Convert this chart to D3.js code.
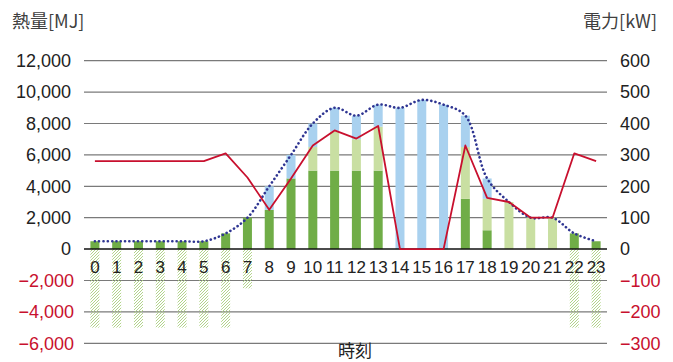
<!DOCTYPE html>
<html>
<head>
<meta charset="utf-8">
<script src="https://cdn.jsdelivr.net/npm/d3@7"></script>
<style>
  body { margin: 0; background: #fff; }
  svg { display: block; }
  text { font-family: "Liberation Sans", Arial, sans-serif; }
  .jp { font-family: "Noto Sans CJK JP", sans-serif; }
</style>
</head>
<body>
<svg id="chart" width="673" height="362"></svg>
<script>
// hours 0..23
const hours = d3.range(24).map(String);

// stacked heat bars [MJ]
const darkGreen  = [500, 500, 500, 500, 500, 500, 1000, 2000, 2500, 4500, 5000, 5000, 5000, 5000, 0, 0, 0, 3200, 1200, 0, 0, 0, 1000, 500];
const lightGreen = [0, 0, 0, 0, 0, 0, 0, 0, 0, 0, 1500, 2500, 2000, 2800, 0, 0, 0, 3300, 2000, 3000, 2000, 2000, 0, 0];
const lightBlue  = [0, 0, 0, 0, 0, 0, 0, 0, 1500, 1500, 1500, 1500, 1500, 1400, 9000, 9500, 9200, 2000, 1300, 0, 0, 0, 0, 0];
// hatched negative bars [MJ]
const storage    = [-5000, -5000, -5000, -5000, -5000, -5000, -5000, -2500, 0, 0, 0, 0, 0, 0, 0, 0, 0, 0, 0, 0, 0, 0, -5000, -5000];
// dotted heat demand [MJ]
const heatDemand = [500, 500, 500, 500, 500, 500, 1000, 2000, 4000, 6000, 8000, 9000, 8500, 9200, 9000, 9500, 9200, 8500, 4500, 3000, 2000, 2000, 1000, 500];
// red power line [kW]
const power      = [280, 280, 280, 280, 280, 280, 305, 228, 125, 225, 330, 378, 352, 392, 0, 0, 0, 330, 163, 150, 100, 100, 305, 280];

const leftTicks  = [-6000, -4000, -2000, 0, 2000, 4000, 6000, 8000, 10000, 12000];
const rightTicks = [-300, -200, -100, 0, 100, 200, 300, 400, 500, 600];

const svg = d3.select('#chart');
const plotLeft = 84, plotRight = 607, plotTop = 60.7, plotBottom = 343.3;

const x = d3.scaleBand().domain(hours).range([plotLeft, plotRight])
  .paddingInner(0.587).paddingOuter(0.2935);
const yL = d3.scaleLinear().domain([-6000, 12000]).range([plotBottom, plotTop]);
const yR = d3.scaleLinear().domain([-300, 600]).range([plotBottom, plotTop]);

const red = '#c8102e';

// hatch pattern
const defs = svg.append('defs');
defs.append('pattern')
  .attr('id', 'hatch')
  .attr('patternUnits', 'userSpaceOnUse')
  .attr('width', 3).attr('height', 3)
  .append('path')
  .attr('d', 'M-1,1 l2,-2 M0,3 l3,-3 M2,4 l2,-2')
  .attr('stroke', '#a9cf7e')
  .attr('stroke-width', 0.9);

// gridlines
svg.append('g').selectAll('line')
  .data(leftTicks.filter(d => d !== 0))
  .join('line')
  .attr('x1', plotLeft).attr('x2', plotRight)
  .attr('y1', d => yL(d)).attr('y2', d => yL(d))
  .attr('stroke', '#7a7a7a').attr('stroke-width', 1.2);

// stacked bars
const rows = hours.map((h, i) => ({ hour: h, dg: darkGreen[i], lg: lightGreen[i], lb: lightBlue[i] }));
const stack = d3.stack().keys(['dg', 'lg', 'lb'])(rows);
const colours = { dg: '#70ad47', lg: '#c9dfa2', lb: '#a9d1ef' };

svg.append('g').selectAll('g')
  .data(stack)
  .join('g')
  .attr('fill', d => colours[d.key])
  .selectAll('rect')
  .data(d => d.filter(s => s[1] > s[0]))
  .join('rect')
  .attr('x', d => x(d.data.hour))
  .attr('width', x.bandwidth())
  .attr('y', d => yL(d[1]))
  .attr('height', d => yL(d[0]) - yL(d[1]));

// hatched negative bars
svg.append('g').selectAll('rect')
  .data(hours.map((h, i) => ({ hour: h, v: storage[i] })).filter(d => d.v < 0))
  .join('rect')
  .attr('x', d => x(d.hour))
  .attr('width', x.bandwidth())
  .attr('y', yL(0))
  .attr('height', d => yL(d.v) - yL(0))
  .attr('fill', 'url(#hatch)');

// x axis labels
const xAxis = svg.append('g')
  .attr('transform', `translate(0,${yL(0)})`)
  .call(d3.axisBottom(x).tickSize(0));
xAxis.select('.domain').remove();
xAxis.selectAll('text')
  .attr('y', 24).attr('dy', 0)
  .attr('font-size', 17).attr('fill', '#222')
  .style('font-family', '"Liberation Sans", Arial, sans-serif');

// zero line
svg.append('line')
  .attr('x1', plotLeft).attr('x2', plotRight)
  .attr('y1', yL(0)).attr('y2', yL(0))
  .attr('stroke', '#111').attr('stroke-width', 1.5);

// dotted heat demand
const cx = h => x(h) + x.bandwidth() / 2;
svg.append('path')
  .datum(heatDemand)
  .attr('fill', 'none')
  .attr('stroke', '#2f3592')
  .attr('stroke-width', 2.6)
  .attr('stroke-linecap', 'round')
  .attr('stroke-dasharray', '0.1 4.2')
  .attr('d', d3.line().x((d, i) => cx(hours[i])).y(d => yL(d)).curve(d3.curveCatmullRom.alpha(0.5)));

// red power line
svg.append('path')
  .datum(power)
  .attr('fill', 'none')
  .attr('stroke', red)
  .attr('stroke-width', 1.8)
  .attr('stroke-linejoin', 'round')
  .attr('d', d3.line().x((d, i) => cx(hours[i])).y(d => yR(d)));

// left axis
const fmt = d3.format(',');
const yAxisL = svg.append('g')
  .attr('transform', `translate(${plotLeft},0)`)
  .call(d3.axisLeft(yL).tickValues(leftTicks).tickSize(0).tickPadding(13).tickFormat(fmt));
yAxisL.select('.domain').remove();
yAxisL.selectAll('text')
  .attr('font-size', 18)
  .attr('fill', d => d < 0 ? red : '#222')
  .attr('x', d => d < 0 ? -10 : -13)
  .style('font-family', '"Liberation Sans", Arial, sans-serif');

// right axis
const yAxisR = svg.append('g')
  .attr('transform', `translate(${plotRight},0)`)
  .call(d3.axisRight(yR).tickValues(rightTicks).tickSize(0).tickPadding(13).tickFormat(fmt));
yAxisR.select('.domain').remove();
yAxisR.selectAll('text')
  .attr('font-size', 18)
  .attr('fill', d => d < 0 ? red : '#222')
  .style('font-family', '"Liberation Sans", Arial, sans-serif');

// titles
svg.append('text').attr('class', 'jp')
  .attr('x', 12).attr('y', 28)
  .attr('font-size', 18).attr('fill', '#404040')
  .text('熱量[MJ]');
svg.append('text').attr('class', 'jp')
  .attr('x', 657).attr('y', 28)
  .attr('text-anchor', 'end')
  .attr('font-size', 18).attr('fill', '#404040')
  .text('電力[kW]');
svg.append('text').attr('class', 'jp')
  .attr('x', 355).attr('y', 357)
  .attr('text-anchor', 'middle')
  .attr('font-size', 17).attr('fill', '#222')
  .text('時刻');
</script>
</body>
</html>
